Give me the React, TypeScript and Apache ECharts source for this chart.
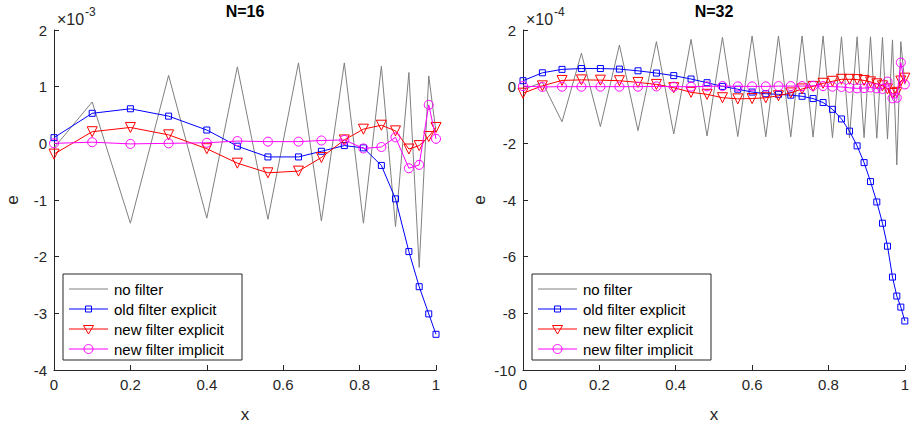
import React, { useEffect, useRef } from "react";
import * as echarts from "echarts";

const seriesNames = ["no filter", "old filter explicit", "new filter explicit", "new filter implicit"];
const titles = ["N=16", "N=32"];
const exponents = ["-3", "-4"];

// N = 16 (values in units of 1e-3)
const x16 = [0, 0.1, 0.2, 0.3, 0.4, 0.48, 0.56, 0.64, 0.7, 0.76, 0.81, 0.857, 0.894, 0.929, 0.956, 0.981, 1];
const noFilter16 = [-0.08, 0.73, -1.41, 1.2, -1.32, 1.35, -1.34, 1.42, -1.37, 1.42, -1.41, 1.36, -1.47, 1.25, -2.19, 1.19, 0.2];
const oldExplicit16 = [0.1, 0.53, 0.61, 0.48, 0.235, -0.05, -0.24, -0.24, -0.14, -0.04, -0.08, -0.39, -0.98, -1.91, -2.53, -3.01, -3.37];
const newExplicit16 = [-0.19, 0.205, 0.28, 0.15, -0.095, -0.35, -0.52, -0.49, -0.25, 0.06, 0.25, 0.32, 0.22, -0.1, -0.04, 0.12, 0.28];
const newImplicit16 = [0, 0.02, -0.01, 0, 0.01, 0.04, 0.03, 0.03, 0.05, 0.06, -0.09, -0.065, 0.106, -0.44, -0.38, 0.68, 0.08];

// N = 32 (values in units of 1e-4)
const x32 = [0, 0.0508, 0.1022, 0.153, 0.2027, 0.2525, 0.3012, 0.3494, 0.3948, 0.4401, 0.482, 0.5224, 0.5625, 0.6, 0.6359, 0.6691, 0.7013, 0.7309, 0.7597, 0.7859, 0.8105, 0.8341, 0.8551, 0.875, 0.8933, 0.9101, 0.9266, 0.9415, 0.9546, 0.9677, 0.979, 0.9895, 1];
const noFilter32 = [-0.1, 0.15, -1.24, 1.18, -1.41, 1.47, -1.55, 1.59, -1.67, 1.67, -1.74, 1.74, -1.76, 1.79, -1.77, 1.79, -1.77, 1.79, -1.78, 1.79, -1.8, 1.76, -1.8, 1.76, -1.8, 1.76, -1.82, 1.74, -1.85, 1.65, -2.76, 1.59, 0.1];
const oldExplicit32 = [0.21, 0.49, 0.61, 0.64, 0.64, 0.62, 0.56, 0.48, 0.39, 0.27, 0.14, 0.01, -0.09, -0.19, -0.25, -0.27, -0.3, -0.34, -0.42, -0.56, -0.8, -1.14, -1.57, -2.09, -2.68, -3.35, -4.07, -4.82, -5.63, -6.72, -7.39, -7.78, -8.27];
const newExplicit32 = [-0.23, 0.03, 0.22, 0.24, 0.23, 0.21, 0.15, 0.08, -0.035, -0.2, -0.27, -0.39, -0.43, -0.42, -0.39, -0.32, -0.22, -0.08, 0.01, 0.12, 0.19, 0.26, 0.26, 0.25, 0.22, 0.17, 0.1, 0.03, -0.08, -0.24, -0.2, 0.2, 0.3];
const newImplicit32 = [0.02, -0.01, 0, 0, 0, 0, 0, 0.01, 0, 0, 0.01, 0.02, 0.01, 0.01, 0.01, 0.02, 0.02, 0.02, 0.03, 0.02, 0, -0.01, -0.04, -0.06, -0.05, -0.03, -0.06, -0.08, 0.18, -0.41, -0.39, 0.85, 0.08];

const FONT = "'Liberation Sans', Arial, Helvetica, sans-serif";
const AXIS_COLOR = "#262626";

const styles = [
  { color: "#808080", symbol: "none", size: 0, rotate: 0 },
  { color: "#0000ff", symbol: "rect", size: 6, rotate: 0 },
  { color: "#ff0000", symbol: "triangle", size: 10, rotate: 180 },
  { color: "#ff00ff", symbol: "circle", size: 9, rotate: 0 },
];

function legendGraphic(left: number, top: number): any[] {
  const els: any[] = [];
  els.push({
    type: "rect",
    shape: { x: left, y: top, width: 179, height: 86 },
    style: { fill: "#fff", stroke: AXIS_COLOR, lineWidth: 1 },
    z: 100,
  });
  seriesNames.forEach((name, i) => {
    const cy = top + 15 + i * 20;
    const x1 = left + 6;
    const x2 = left + 45;
    const cx = (x1 + x2) / 2;
    const col = styles[i].color;
    els.push({
      type: "line",
      shape: { x1, y1: cy, x2, y2: cy },
      style: { stroke: col, lineWidth: 1 },
      z: 101,
    });
    if (i === 1) {
      els.push({ type: "rect", shape: { x: cx - 3, y: cy - 3, width: 6, height: 6 }, style: { fill: "none", stroke: col, lineWidth: 1 }, z: 102 });
    } else if (i === 2) {
      els.push({ type: "polygon", shape: { points: [[cx - 5, cy - 3.5], [cx + 5, cy - 3.5], [cx, cy + 5]] }, style: { fill: "none", stroke: col, lineWidth: 1 }, z: 102 });
    } else if (i === 3) {
      els.push({ type: "circle", shape: { cx, cy, r: 4.5 }, style: { fill: "none", stroke: col, lineWidth: 1 }, z: 102 });
    }
    els.push({
      type: "text",
      x: left + 51,
      y: cy,
      style: { text: name, fontSize: 15, fontFamily: FONT, fill: "#000", verticalAlign: "middle", align: "left" },
      z: 102,
    });
  });
  return els;
}

export default function App() {
  const ref = useRef<HTMLDivElement>(null);
  useEffect(() => {
    document.body.style.margin = "0";
    if (!ref.current) return;
    const chart = echarts.init(ref.current, undefined, { renderer: "svg" });

    const grids = [
      { left: 54, top: 30, width: 382, height: 340 },
      { left: 523, top: 30, width: 382, height: 340 },
    ];
    const panels = [
      { x: x16, ys: [noFilter16, oldExplicit16, newExplicit16, newImplicit16], min: -4, max: 2, interval: 1, nameGap: 33 },
      { x: x32, ys: [noFilter32, oldExplicit32, newExplicit32, newImplicit32], min: -10, max: 2, interval: 2, nameGap: 35 },
    ];

    const series: any[] = [];
    panels.forEach((p, pi) => {
      p.ys.forEach((ys, si) => {
        const st = styles[si];
        series.push({
          type: "line",
          name: seriesNames[si],
          xAxisIndex: pi,
          yAxisIndex: pi,
          data: p.x.map((xv, i) => [xv, ys[i]]),
          symbol: st.symbol,
          symbolSize: st.size,
          symbolRotate: st.rotate,
          showSymbol: st.symbol !== "none",
          clip: false,
          z: 2 + si,
          lineStyle: { color: st.color, width: 1 },
          itemStyle: { color: "rgba(0,0,0,0)", borderColor: st.color, borderWidth: 1 },
          emphasis: { disabled: true },
        });
      });
    });

    const axisCommon = {
      axisLine: { show: true, onZero: false, lineStyle: { color: AXIS_COLOR, width: 1 } },
      axisTick: { show: true, inside: true, length: 5, lineStyle: { color: AXIS_COLOR } },
      splitLine: { show: false },
      axisLabel: { color: AXIS_COLOR, fontSize: 15, fontFamily: FONT, margin: 7 },
      nameTextStyle: { color: AXIS_COLOR, fontSize: 17, fontFamily: FONT },
    };

    const graphic: any[] = [];
    grids.forEach((g, gi) => {
      graphic.push({
        type: "text",
        x: g.left + 3,
        y: 19,
        style: { text: "×10", fontSize: 16, fontFamily: FONT, fill: AXIS_COLOR, verticalAlign: "middle" },
      });
      graphic.push({
        type: "text",
        x: g.left + 31,
        y: 12,
        style: { text: exponents[gi], fontSize: 12, fontFamily: FONT, fill: AXIS_COLOR, verticalAlign: "middle" },
      });
    });
    graphic.push(...legendGraphic(63, 274));
    graphic.push(...legendGraphic(532, 274));

    chart.setOption({
      animation: false,
      title: grids.map((g, gi) => ({
        text: titles[gi],
        left: g.left + g.width / 2,
        textAlign: "center",
        top: 3,
        padding: 0,
        textStyle: { fontSize: 16, fontWeight: "bold", fontFamily: FONT, color: "#000" },
      })),
      grid: grids,
      xAxis: grids.map((_, gi) => ({
        ...axisCommon,
        type: "value",
        gridIndex: gi,
        min: 0,
        max: 1,
        interval: 0.2,
        name: "x",
        nameLocation: "middle",
        nameGap: 36,
      })),
      yAxis: panels.map((p, gi) => ({
        ...axisCommon,
        type: "value",
        gridIndex: gi,
        min: p.min,
        max: p.max,
        interval: p.interval,
        name: "e",
        nameLocation: "middle",
        nameGap: p.nameGap,
        nameRotate: 90,
      })),
      graphic,
      series,
    });

    return () => chart.dispose();
  }, []);

  return <div ref={ref} style={{ width: 912, height: 428 }} />;
}
